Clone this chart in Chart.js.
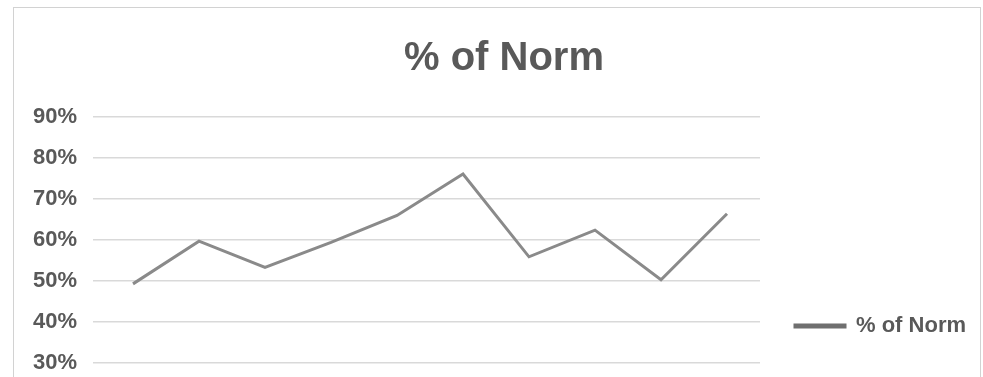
<!DOCTYPE html>
<html>
<head>
<meta charset="utf-8">
<script src="https://cdn.jsdelivr.net/npm/chart.js@4.4.1/dist/chart.umd.min.js"></script>
<style>
  html, body { margin: 0; padding: 0; background: #ffffff; overflow: hidden; }
  #wrap { position: relative; width: 983px; height: 377px; }
  #frame {
    position: absolute; left: 13px; top: 7px; width: 968px; height: 420px;
    border: 1.5px solid #d2d2d2; box-sizing: border-box;
  }
  #c { position: absolute; left: 0; top: 0; }
</style>
</head>
<body>
<div id="wrap">
  <div id="frame"></div>
  <canvas id="c" width="983" height="377"></canvas>
</div>
<script>
// Series data
const categories = ['1', '2', '3', '4', '5', '6', '7', '8', '9', '10'];
const pctOfNorm = [49.3, 59.7, 53.3, 59.4, 66.0, 76.1, 55.9, 62.4, 50.3, 66.4];
const seriesName = '% of Norm';
const chartTitle = '% of Norm';

// Value axis range
const yMin = 30;
const yMax = 90;
const yStep = 10;

const FONT = "'Liberation Sans', Arial, sans-serif";
const TEXT = '#595959';
const LINE = '#8a8a8a';
const GRID = '#d9d9d9';

Chart.defaults.font.family = FONT;
Chart.defaults.color = TEXT;

// Geometry of the layout
const W = 983;
const plotLeft = 100;
const plotRight = 760;
const titleCenter = 504;
const legendFont = 22;
const legendPad = 35;
const legendBox = 50;
const padLeft = 20;

const mctx = document.createElement('canvas').getContext('2d');
mctx.font = 'bold ' + legendFont + 'px ' + FONT;
const legendTextW = mctx.measureText(seriesName).width;
const legendW = legendPad + legendBox + legendFont / 2 + legendTextW + 10;
const padRight = W - plotRight - legendW;

// Centre the title over the frame rather than the padded canvas
const titleOffset = {
  id: 'titleOffset',
  afterLayout(chart) {
    const t = chart.titleBlock;
    if (!t) return;
    const dx = titleCenter - (t.left + t.right) / 2;
    t.left += dx;
    t.right += dx;
  }
};

new Chart(document.getElementById('c'), {
  type: 'line',
  data: {
    labels: categories,
    datasets: [{
      label: seriesName,
      data: pctOfNorm,
      borderColor: LINE,
      backgroundColor: '#6f6f6f',
      borderWidth: 3,
      pointRadius: 0,
      tension: 0,
      fill: false
    }]
  },
  plugins: [titleOffset],
  options: {
    responsive: false,
    animation: false,
    layout: { padding: { left: padLeft, right: padRight, top: 0, bottom: 5 } },
    plugins: {
      title: {
        display: true,
        text: chartTitle,
        color: TEXT,
        font: { size: 40, weight: 'bold' },
        padding: { top: 35, bottom: 34 }
      },
      legend: {
        display: true,
        position: 'right',
        align: 'end',
        labels: {
          color: TEXT,
          font: { size: legendFont, weight: 'bold' },
          boxWidth: legendBox,
          boxHeight: 2,
          padding: legendPad,
          generateLabels(chart) {
            return Chart.defaults.plugins.legend.labels.generateLabels(chart).map(l => {
              l.fillStyle = '#6f6f6f';
              l.strokeStyle = '#6f6f6f';
              return l;
            });
          }
        }
      },
      tooltip: { enabled: false }
    },
    scales: {
      x: {
        display: false,
        offset: true
      },
      y: {
        min: yMin,
        max: yMax,
        border: { display: false },
        grid: { color: GRID, lineWidth: 1.5, drawTicks: true, tickLength: 7 },
        ticks: {
          stepSize: yStep,
          padding: 16,
          color: TEXT,
          font: { size: 22, weight: 'bold' },
          callback: v => v + '%'
        },
        afterFit(scale) {
          scale.width = plotLeft - padLeft;
          scale.paddingBottom = 14;
          scale.paddingTop = 0;
        }
      }
    }
  }
});
</script>
</body>
</html>
